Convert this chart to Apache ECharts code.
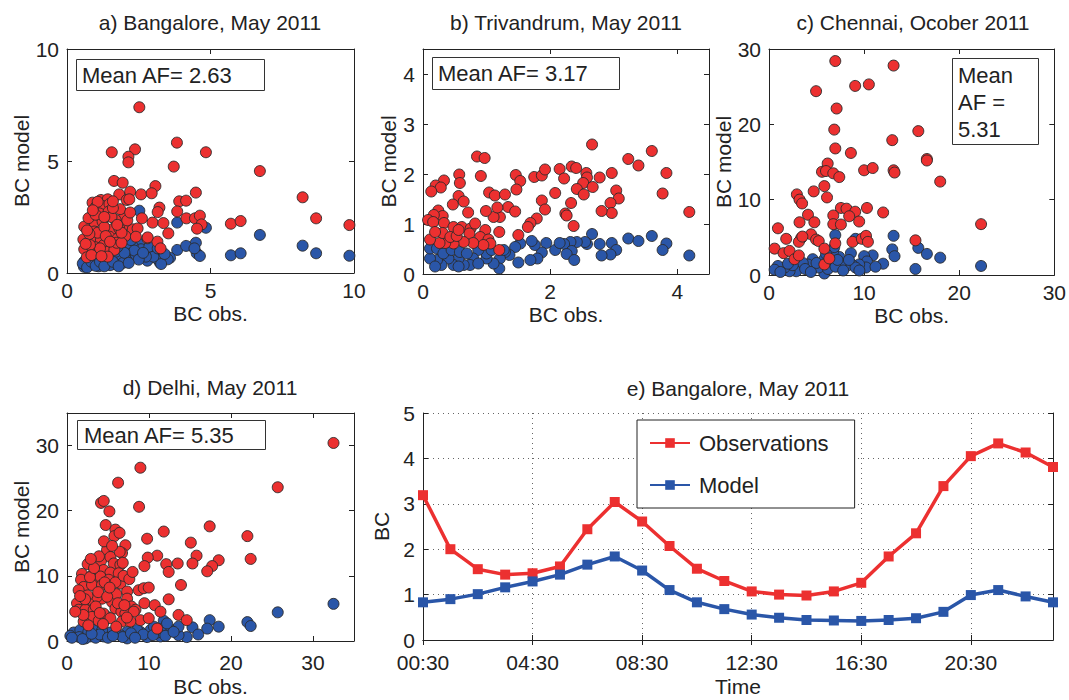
<!DOCTYPE html>
<html><head><meta charset="utf-8">
<script src="https://cdn.jsdelivr.net/npm/echarts@6/dist/echarts.min.js"></script>
<style>html,body{margin:0;padding:0;background:#fff}#c{width:1069px;height:700px}</style>
</head><body><div id="c"></div>
<script>
// ---------- DATA ----------
// panel a) Bangalore, May 2011  [BC obs, BC model]
const aRed = [[2.52,7.40],[1.56,5.39],[2.37,5.52],[2.14,5.19],[2.14,4.94],[3.83,5.82],[4.84,5.39],[3.72,4.75],[6.72,4.55],[8.21,3.38],[8.68,2.44],[9.84,2.14],[5.71,2.20],[6.05,2.32],[4.49,3.59],[1.64,4.11],[1.94,4.03],[3.08,3.88],[1.82,3.51],[2.20,3.63],[2.58,3.51],[2.95,3.56],[2.08,3.26],[3.91,3.20],[4.15,3.23],[3.22,2.92],[3.16,2.72],[3.84,2.75],[2.98,2.25],[3.36,2.23],[4.16,2.44],[4.46,2.44],[4.63,2.56],[4.69,2.17],[4.53,1.98],[3.53,1.77],[2.80,1.55],[3.15,1.40],[3.26,1.10],[2.17,3.29],[0.89,3.14],[1.18,3.26],[1.42,3.29],[1.01,2.96],[1.24,2.99],[1.48,3.08],[1.13,2.66],[1.45,2.74],[1.99,2.51],[2.61,2.44],[0.95,2.25],[1.24,2.29],[1.69,2.37],[1.99,2.14],[2.29,1.95],[2.46,1.99],[0.60,2.07],[0.95,1.85],[1.27,1.85],[1.57,1.95],[1.82,1.99],[0.57,1.50],[0.89,1.47],[1.18,1.47],[1.48,1.62],[1.77,1.55],[2.03,1.65],[2.81,1.59],[0.99,1.15],[1.28,1.25],[1.59,1.21],[0.60,1.06],[0.69,0.70],[0.90,0.95],[1.10,0.88],[1.36,0.95],[1.65,1.03],[1.73,1.35],[1.42,0.73],[2.40,1.62],[1.07,1.80],[0.78,1.74],[1.07,3.18],[1.30,2.05],[1.55,2.50],[0.75,2.45],[1.15,1.10],[1.85,2.85],[1.35,1.65],[0.80,1.25],[2.10,2.35],[1.60,2.90],[1.90,1.35],[1.00,2.60],[1.30,2.50],[0.70,1.90],[1.50,1.40],[1.90,1.80],[0.65,1.30],[0.85,0.80],[1.20,0.75],[2.20,2.70],[1.75,2.15],[0.90,2.80],[1.60,3.20]];
const aBlue = [[2.52,2.78],[3.84,2.25],[4.84,2.02],[6.72,1.70],[8.21,1.22],[8.68,0.88],[9.84,0.77],[5.71,0.79],[6.05,0.88],[4.49,1.35],[3.84,1.03],[4.15,1.21],[4.52,0.88],[4.63,0.76],[3.59,0.68],[3.24,0.46],[2.80,0.55],[2.54,1.29],[2.22,1.21],[2.43,0.88],[2.08,0.73],[1.85,0.58],[2.02,1.03],[1.71,0.40],[1.38,0.43],[1.03,0.46],[0.80,0.36],[0.59,0.28],[1.27,0.58],[0.92,0.65],[1.56,0.73],[3.01,0.88],[3.13,0.65],[4.44,1.10],[3.51,0.61],[3.28,0.40],[3.01,0.73],[2.58,1.06],[2.29,1.18],[2.11,1.32],[2.40,0.80],[2.75,0.73],[2.06,0.58],[0.66,0.31],[0.60,0.51],[0.90,0.58],[1.22,0.61],[1.53,0.70],[1.88,0.80],[2.23,1.47],[2.35,1.00],[2.87,1.18],[3.16,1.10],[1.10,0.30],[1.50,0.35],[0.75,0.45],[1.95,0.45],[1.70,0.95],[1.40,0.85],[0.55,0.42],[0.70,0.25],[0.85,0.50],[1.00,0.32],[1.15,0.50],[1.30,0.30],[1.60,0.50],[1.80,0.30],[2.00,0.90],[2.50,0.60],[2.65,0.90],[3.40,0.85],[1.75,1.15],[2.15,0.45]];
// panel b) Trivandrum, May 2011
const bRed = [[2.66,2.59],[3.60,2.46],[3.23,2.30],[3.39,2.17],[3.83,2.02],[0.85,2.35],[0.97,2.32],[0.91,1.96],[0.57,1.99],[0.58,1.82],[0.33,1.87],[0.20,1.77],[0.28,1.73],[0.13,1.65],[1.46,1.98],[1.53,1.86],[1.47,1.69],[1.75,1.94],[1.87,1.97],[1.92,2.09],[2.15,2.10],[2.22,1.91],[2.34,2.15],[2.41,2.12],[2.57,2.02],[2.58,1.93],[2.52,1.82],[2.67,1.74],[2.42,1.70],[2.53,1.59],[2.78,1.93],[2.97,2.02],[3.04,1.67],[3.08,1.51],[2.95,1.42],[2.97,1.22],[2.81,1.26],[3.77,1.61],[4.19,1.24],[2.08,1.62],[1.87,1.47],[1.92,1.29],[2.33,1.42],[2.24,1.21],[2.26,1.17],[2.37,0.96],[1.79,1.11],[1.69,1.02],[1.65,0.94],[1.50,0.78],[1.04,1.63],[1.13,1.57],[1.29,1.59],[1.34,1.34],[1.45,1.25],[1.21,1.14],[1.11,1.14],[1.17,1.33],[0.99,1.26],[1.20,0.84],[1.20,0.48],[0.56,1.56],[0.64,1.45],[0.47,1.39],[0.71,1.23],[0.24,1.27],[0.31,1.16],[0.17,1.18],[0.08,1.08],[0.16,1.04],[0.33,1.02],[0.48,0.94],[0.61,0.94],[0.75,0.91],[0.98,0.88],[0.73,0.81],[0.90,0.74],[1.03,0.69],[1.06,0.61],[0.95,0.58],[0.79,0.62],[0.64,0.64],[0.48,0.61],[0.35,0.62],[0.26,0.62],[0.11,0.69],[0.31,0.82],[0.19,0.84],[0.43,0.74],[0.53,0.76],[0.56,0.88],[0.82,1.01]];
const bBlue = [[2.66,0.80],[3.23,0.71],[3.39,0.66],[3.60,0.76],[3.83,0.61],[3.77,0.48],[4.19,0.37],[2.97,0.62],[3.04,0.48],[2.95,0.39],[2.81,0.37],[2.78,0.60],[2.58,0.60],[2.55,0.64],[2.42,0.64],[2.32,0.64],[2.22,0.60],[2.34,0.46],[2.26,0.40],[2.38,0.28],[2.08,0.48],[2.15,0.62],[1.94,0.62],[1.87,0.43],[1.80,0.31],[1.69,0.28],[1.76,0.58],[1.71,0.66],[1.53,0.61],[1.45,0.54],[1.50,0.23],[1.36,0.38],[1.29,0.44],[1.21,0.31],[1.20,0.11],[1.11,0.21],[1.00,0.31],[1.00,0.41],[0.92,0.61],[0.87,0.48],[0.79,0.31],[0.74,0.18],[0.64,0.18],[0.56,0.31],[0.48,0.18],[0.40,0.31],[0.29,0.18],[0.22,0.28],[0.11,0.31],[0.11,0.51],[0.22,0.51],[0.32,0.41],[0.45,0.48],[0.58,0.44],[0.69,0.41],[0.56,0.15],[0.19,0.15],[0.87,0.21],[1.08,0.48],[1.27,0.48]];
// panel c) Chennai, Ocober 2011
const cRed = [[6.97,28.4],[13.1,27.8],[4.95,24.4],[9.06,25.1],[10.5,25.3],[7.11,22.1],[6.86,19.3],[6.97,16.8],[12.96,17.9],[15.7,19.1],[8.61,16.2],[6.17,14.8],[5.57,13.7],[5.99,13.8],[6.76,13.5],[7.39,13.0],[10.0,13.9],[10.9,14.2],[13.1,13.9],[13.2,13.6],[16.6,15.4],[16.6,15.2],[18.0,12.4],[5.82,11.8],[4.70,11.1],[6.10,10.3],[2.93,10.7],[3.21,10.0],[3.48,9.5],[7.56,8.9],[8.15,8.8],[9.06,8.4],[8.43,7.8],[9.48,7.1],[10.3,8.9],[12.0,8.3],[6.76,7.9],[4.10,8.0],[4.77,7.0],[3.21,7.0],[6.76,6.75],[7.56,6.7],[0.94,6.2],[1.81,4.8],[0.59,3.5],[1.53,2.9],[2.16,3.2],[2.68,2.1],[3.14,2.6],[3.38,4.9],[3.14,4.4],[4.42,5.4],[3.51,5.1],[4.95,4.7],[5.23,4.5],[5.82,3.5],[5.82,1.4],[6.34,2.2],[6.97,4.2],[8.78,4.4],[9.76,4.8],[10.2,5.2],[10.4,4.4],[15.4,4.6],[22.3,6.75]];
const cBlue = [[6.97,5.3],[9.1,4.8],[13.1,5.2],[12.96,3.4],[13.2,2.5],[15.7,3.6],[16.6,2.8],[18.0,2.3],[22.3,1.2],[15.4,0.8],[12.0,1.5],[10.9,2.6],[10.0,2.5],[10.3,1.8],[10.2,1.0],[9.48,1.4],[8.61,2.9],[8.71,1.4],[8.15,1.2],[7.39,2.4],[6.76,3.2],[6.86,3.7],[6.52,1.3],[5.82,2.1],[5.82,0.2],[4.60,2.1],[4.70,1.2],[4.08,1.4],[3.21,1.0],[2.86,0.5],[2.16,0.5],[1.64,1.0],[0.94,1.2],[0.59,0.7],[3.55,1.6],[5.23,1.0],[7.56,1.5],[9.1,1.0],[11.2,1.1],[2.5,1.3],[3.8,0.8],[4.4,0.4],[5.0,1.6],[6.2,0.8],[7.0,1.1],[7.8,0.6],[8.4,2.0],[9.5,0.6],[1.2,0.4],[2.0,1.5],[6.0,2.8],[7.2,2.0]];
// panel d) Delhi, May 2011
const dRed = [[32.5,30.4],[25.7,23.6],[8.95,26.6],[6.23,24.3],[4.15,21.2],[4.48,21.5],[8.79,20.6],[5.17,19.9],[4.72,17.8],[5.90,17.1],[5.78,16.1],[6.41,16.6],[11.8,16.8],[17.4,17.6],[22.0,16.1],[22.4,12.6],[9.77,15.7],[15.1,15.1],[15.8,13.1],[18.5,12.4],[17.7,11.5],[17.1,10.7],[15.3,11.9],[13.5,11.9],[12.1,11.8],[12.4,10.6],[11.0,13.1],[9.85,12.8],[9.44,11.5],[7.12,14.7],[6.71,13.5],[4.88,14.0],[2.52,11.8],[4.15,12.3],[5.29,12.9],[6.43,13.7],[5.70,11.9],[6.51,11.7],[4.48,10.9],[5.29,10.5],[6.31,10.4],[1.83,10.3],[1.71,9.4],[3.05,10.1],[3.58,9.4],[4.07,9.9],[5.09,9.4],[2.03,8.3],[3.05,8.6],[4.27,8.6],[5.29,7.6],[6.51,8.8],[8.75,7.8],[9.36,8.1],[9.97,8.2],[13.9,8.6],[1.42,7.8],[1.22,5.8],[2.44,5.8],[3.26,6.0],[4.27,6.5],[3.66,6.8],[5.49,6.0],[7.33,7.6],[7.33,6.5],[7.85,5.3],[8.35,4.8],[9.44,5.8],[10.7,5.5],[12.4,6.4],[1.42,4.8],[2.24,4.8],[3.26,4.8],[3.05,3.7],[4.48,4.2],[5.9,5.0],[6.63,4.5],[7.12,4.2],[8.14,4.5],[11.4,4.5],[2.03,3.0],[3.87,3.1],[5.29,3.5],[6.71,3.0],[8.95,3.2],[9.97,3.5],[11.0,1.9],[13.6,4.0],[14.6,3.2],[7.73,3.0],[2.5,7.0],[3.8,7.5],[4.6,9.0],[2.8,9.8],[3.3,11.2],[5.9,9.0],[6.9,10.0],[6.0,7.2],[4.9,6.8],[2.2,6.4],[1.6,6.9],[3.5,5.3],[4.0,4.3],[6.2,5.8],[7.0,5.5],[5.2,8.2],[3.9,13.0],[4.5,15.3],[5.5,14.6],[2.9,12.6],[6.8,12.0],[7.6,9.5],[8.0,10.6],[2.0,4.0],[1.0,4.5],[2.6,2.4],[4.4,2.6],[6.0,2.2],[7.3,3.6]];
const dBlue = [[32.5,5.7],[25.7,4.4],[22.0,2.9],[22.4,2.3],[17.4,3.2],[18.5,2.2],[17.1,1.9],[15.3,2.1],[14.6,0.6],[13.6,0.9],[13.6,2.2],[12.6,1.7],[11.8,3.1],[11.4,1.8],[11.4,0.7],[10.2,1.7],[9.77,0.6],[8.95,1.4],[7.94,0.9],[7.33,1.4],[6.51,0.9],[5.70,1.4],[4.88,3.7],[5.29,1.3],[4.48,0.7],[3.66,1.2],[2.85,0.7],[2.03,1.1],[1.22,0.9],[0.81,1.3],[0.41,0.8],[1.63,1.7],[3.26,1.7],[4.27,1.6],[8.55,1.7],[10.6,2.2],[11.0,1.3],[12.2,2.7],[7.33,0.4],[2.24,0.4],[1.5,0.6],[2.6,1.4],[3.5,0.5],[4.0,1.0],[5.0,0.5],[6.0,1.1],[6.8,0.6],[7.8,1.2],[9.3,1.0],[10.5,0.9],[12.0,0.8],[0.6,0.5],[1.9,0.3],[3.0,1.1],[5.6,0.8],[8.3,0.5],[13.0,1.4],[16.0,1.0]];
// panel e) Bangalore, May 2011 diurnal cycle
const hours = ['00:30','01:30','02:30','03:30','04:30','05:30','06:30','07:30','08:30','09:30','10:30','11:30','12:30','13:30','14:30','15:30','16:30','17:30','18:30','19:30','20:30','21:30','22:30','23:30'];
const observations = [3.19,2.0,1.56,1.44,1.47,1.62,2.44,3.04,2.61,2.07,1.57,1.30,1.07,1.0,0.98,1.07,1.26,1.84,2.35,3.39,4.05,4.33,4.13,3.81];
const model = [0.83,0.90,1.01,1.16,1.29,1.44,1.66,1.84,1.53,1.10,0.83,0.68,0.56,0.49,0.44,0.43,0.42,0.44,0.48,0.62,0.99,1.10,0.96,0.83];
const panelTitles = ['a) Bangalore, May 2011','b) Trivandrum, May 2011','c) Chennai, Ocober 2011','d) Delhi, May 2011','e) Bangalore, May 2011'];
const meanAF = ['2.63','3.17','5.31','5.35'];

// ---------- STYLE / LAYOUT ----------
const FONT = 'Liberation Sans, Arial, sans-serif';
const TXT = '#222';
const RED = '#ec3030', BLUE = '#2a56a8';
const grids = [
  {left:67, top:49, width:287, height:224},
  {left:423, top:49, width:286, height:225},
  {left:769, top:49, width:288, height:226},
  {left:67, top:413, width:287, height:228},
  {left:423, top:413, width:630, height:227}
];
const lineC = {color:'#222', width:1};
function lbl(extra){return Object.assign({fontFamily:FONT,fontSize:21,color:TXT,margin:7},extra||{});}
function valX(gi, mn, mx, iv, showMax, name, gap, mg){
  return [{type:'value',gridIndex:gi,min:mn,max:mx,interval:iv,position:'bottom',
    name:name,nameLocation:'middle',nameGap:gap,nameTextStyle:{fontFamily:FONT,fontSize:21,color:TXT},
    axisLine:{show:true,onZero:false,lineStyle:lineC},axisTick:{show:true,inside:true,length:5,lineStyle:lineC},
    axisLabel:lbl({showMaxLabel:showMax,margin:mg||7}),splitLine:{show:false}},
   {type:'value',gridIndex:gi,min:mn,max:mx,interval:iv,position:'top',
    axisLine:{show:true,onZero:false,lineStyle:lineC},axisTick:{show:true,inside:true,length:5,lineStyle:lineC},
    axisLabel:{show:false},splitLine:{show:false}}];
}
function valY(gi, mn, mx, iv, showMax, name, gap, split){
  return [{type:'value',gridIndex:gi,min:mn,max:mx,interval:iv,position:'left',
    name:name,nameLocation:'middle',nameGap:gap,nameRotate:90,nameTextStyle:{fontFamily:FONT,fontSize:21,color:TXT},
    axisLine:{show:true,onZero:false,lineStyle:lineC},axisTick:{show:true,inside:true,length:5,lineStyle:lineC},
    axisLabel:lbl({showMaxLabel:showMax,margin:8}),
    splitLine:{show:!!split,lineStyle:{type:[1,4],color:'#666'}}},
   {type:'value',gridIndex:gi,min:mn,max:mx,interval:iv,position:'right',
    axisLine:{show:true,onZero:false,lineStyle:lineC},axisTick:{show:true,inside:true,length:5,lineStyle:lineC},
    axisLabel:{show:false},splitLine:{show:false}}];
}
const xAxes = [].concat(
  valX(0,0,10,5,true,'BC obs.',30),
  valX(1,0,4.5,2,false,'BC obs.',30),
  valX(2,0,30,10,true,'BC obs.',30),
  valX(3,0,35,10,false,'BC obs.',35,11),
  [{type:'category',gridIndex:4,data:hours,boundaryGap:false,position:'bottom',
    name:'Time',nameLocation:'middle',nameGap:36,nameTextStyle:{fontFamily:FONT,fontSize:21,color:TXT},
    axisLine:{show:true,lineStyle:lineC},axisTick:{show:true,inside:true,length:5,interval:3,lineStyle:lineC},
    axisLabel:lbl({interval:3,margin:12}),splitLine:{show:true,interval:3,lineStyle:{type:[1,4],color:'#666'}}},
   {type:'category',gridIndex:4,data:hours,boundaryGap:false,position:'top',
    axisLine:{show:true,lineStyle:lineC},axisTick:{show:true,inside:true,length:5,interval:3,lineStyle:lineC},
    axisLabel:{show:false},splitLine:{show:false}}]
);
const yAxes = [].concat(
  valY(0,0,10,5,true,'BC model',25),
  valY(1,0,4.5,1,false,'BC model',21),
  valY(2,0,30,10,true,'BC model',29),
  valY(3,0,35,10,false,'BC model',25),
  valY(4,0,5,1,true,'BC',25,true)
);
function scat(idx, data, color){
  return {type:'scatter',xAxisIndex:idx*2,yAxisIndex:idx*2,data:data,symbolSize:11,
    itemStyle:{color:color,borderColor:'#2a2a2a',borderWidth:0.9,opacity:1},silent:true,animation:false};
}
const series = [
  scat(0,aBlue,BLUE),scat(0,aRed,RED),
  scat(1,bBlue,BLUE),scat(1,bRed,RED),
  scat(2,cBlue,BLUE),scat(2,cRed,RED),
  scat(3,dBlue,BLUE),scat(3,dRed,RED),
  {type:'line',name:'Observations',xAxisIndex:8,yAxisIndex:8,data:observations,symbol:'rect',symbolSize:10,
   lineStyle:{color:RED,width:3.5},itemStyle:{color:RED},animation:false},
  {type:'line',name:'Model',xAxisIndex:8,yAxisIndex:8,data:model,symbol:'rect',symbolSize:10,
   lineStyle:{color:BLUE,width:3.5},itemStyle:{color:BLUE},animation:false}
];
const titlePos = [[210,22],[566,22],[913,22],[210,387],[738,388]];
const graphic = [];
panelTitles.forEach((t,i)=>graphic.push({type:'text',x:titlePos[i][0],y:titlePos[i][1],
  style:{text:t,font:'21px '+FONT,fill:TXT,align:'center',verticalAlign:'middle'}}));
const boxes = [
  {r:[76,59,188,31], lines:['Mean AF= '+meanAF[0]], tx:82, ty:[75]},
  {r:[432,57,187,32], lines:['Mean AF= '+meanAF[1]], tx:438, ty:[73]},
  {r:[952,58,86,86], lines:['Mean','AF =',meanAF[2]], tx:958, ty:[75,102,129]},
  {r:[77,420,188,29], lines:['Mean AF= '+meanAF[3]], tx:84, ty:[435]}
];
boxes.forEach(b=>{
  graphic.push({type:'rect',shape:{x:b.r[0]+0.5,y:b.r[1]+0.5,width:b.r[2],height:b.r[3]},
    style:{fill:'#fff',stroke:'#333',lineWidth:1},z:10});
  b.lines.forEach((l,j)=>graphic.push({type:'text',x:b.tx,y:b.ty[j],z:11,
    style:{text:l,font:'22px '+FONT,fill:TXT,align:'left',verticalAlign:'middle'}}));
});

const chart = echarts.init(document.getElementById('c'),null,{renderer:'svg',width:1069,height:700});
chart.setOption({
  backgroundColor:'#fff',
  animation:false,
  grid: grids.map(g=>Object.assign({containLabel:false},g)),
  xAxis:xAxes, yAxis:yAxes, series:series, graphic:graphic,
  legend:{data:['Observations','Model'],orient:'vertical',left:637,top:420,
    itemWidth:40,itemHeight:12,itemGap:20,padding:[12,26,12,12],
    borderColor:'#222',borderWidth:1,backgroundColor:'#fff',
    textStyle:{fontFamily:FONT,fontSize:22,color:TXT,padding:[0,0,0,4]}}
});
</script></body></html>
